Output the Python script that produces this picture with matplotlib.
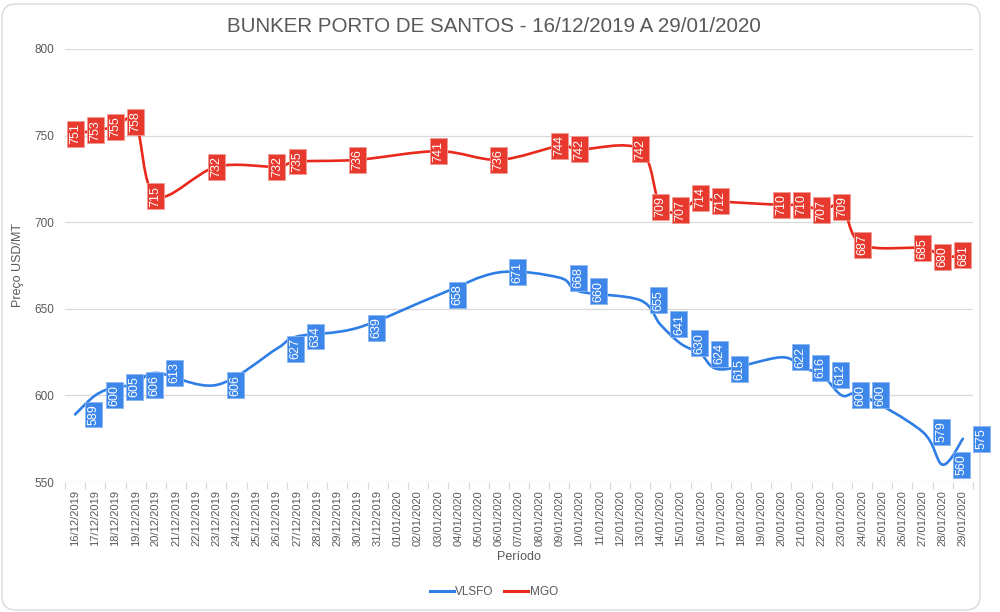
import numpy as np
import pandas as pd
import matplotlib
matplotlib.use("Agg")
import matplotlib.pyplot as plt
from matplotlib.path import Path
from matplotlib.patches import PathPatch, FancyBboxPatch
from matplotlib.lines import Line2D
from matplotlib.transforms import IdentityTransform

plt.rcParams['font.family'] = ['Liberation Sans', 'DejaVu Sans']

# axis categories: every day of the period
day_labels = [d.strftime('%d/%m/%Y') for d in pd.date_range('2019-12-16', '2020-01-29')]

# dates with a quote
quote_dates = ['16/12/2019', '17/12/2019', '18/12/2019', '19/12/2019', '20/12/2019',
               '23/12/2019', '26/12/2019', '27/12/2019', '30/12/2019', '03/01/2020',
               '06/01/2020', '09/01/2020', '10/01/2020', '13/01/2020', '14/01/2020',
               '15/01/2020', '16/01/2020', '17/01/2020', '20/01/2020', '21/01/2020',
               '22/01/2020', '23/01/2020', '24/01/2020', '27/01/2020', '28/01/2020',
               '29/01/2020']
vlsfo = [589, 600, 605, 606, 613, 606, 627, 634, 639, 658, 671, 668, 660,
         655, 641, 630, 624, 615, 622, 616, 612, 600, 600, 579, 560, 575]
mgo = [751, 753, 755, 758, 715, 732, 732, 735, 736, 741, 736, 744, 742,
       742, 709, 707, 714, 712, 710, 710, 707, 709, 687, 685, 680, 681]

BLUE_LINE = '#2f7ee6'
BLUE_BOX = '#3d86ea'
RED_LINE = '#e8291c'
RED_BOX = '#e8392e'
GRAY = '#595959'
GRID = '#d9d9d9'


def smooth_path(xs, ys):
    """Bezier path through the points, like Excel's smoothed line."""
    pts = np.column_stack([xs, ys]).astype(float)
    n = len(pts)
    verts = [pts[0]]
    codes = [Path.MOVETO]
    for i in range(n - 1):
        p0 = pts[i - 1] if i > 0 else pts[i]
        p1 = pts[i]
        p2 = pts[i + 1]
        p3 = pts[i + 2] if i + 2 < n else pts[i + 1]
        verts += [p1 + (p2 - p0) / 6.0, p2 - (p3 - p1) / 6.0, p2]
        codes += [Path.CURVE4] * 3
    return Path(verts, codes)


fig = plt.figure(figsize=(10, 6.12), dpi=100)
fig.add_artist(FancyBboxPatch((2, 2), 978, 606, boxstyle='round,pad=0,rounding_size=14',
                              transform=IdentityTransform(), facecolor='white',
                              edgecolor=GRID, linewidth=1.0, zorder=-10))

ax = fig.add_axes([0.065, 0.2124, 0.908, 0.7076])
ax.set_facecolor('none')

x_idx = [day_labels.index(d) for d in quote_dates]

ax.add_patch(PathPatch(smooth_path(x_idx, vlsfo), facecolor='none', edgecolor=BLUE_LINE,
                       linewidth=1.9, capstyle='round', zorder=3))
ax.add_patch(PathPatch(smooth_path(x_idx, mgo), facecolor='none', edgecolor=RED_LINE,
                       linewidth=1.9, capstyle='round', zorder=3))

for x, v in zip(x_idx, vlsfo):
    ax.annotate(str(v), (x, v), xytext=(13.5, 0), textcoords='offset points',
                rotation=90, ha='center', va='center', color='white', fontsize=9,
                bbox=dict(boxstyle='square,pad=0.2', facecolor=BLUE_BOX,
                          edgecolor='#8ab6f2', linewidth=0.6), zorder=4)

for x, v in zip(x_idx, mgo):
    ax.text(x, v, str(v), rotation=90, ha='center', va='center', color='white',
            fontsize=9,
            bbox=dict(boxstyle='square,pad=0.2', facecolor=RED_BOX,
                      edgecolor='#f09a93', linewidth=0.6), zorder=4)

ax.set_xlim(-0.5, len(day_labels) - 0.5)
ax.set_ylim(550, 800)
ax.set_yticks(np.arange(550, 801, 50))
ax.set_xticks(range(len(day_labels)))
ax.set_xticklabels(day_labels, rotation=90, fontsize=8, color=GRAY)
ax.set_xticks(np.arange(-0.5, len(day_labels), 1), minor=True)
ax.tick_params(axis='x', which='major', length=0, pad=6)
ax.tick_params(axis='x', which='minor', length=5, color=GRID, width=0.8)
ax.tick_params(axis='y', length=0, pad=8, labelsize=8.5, labelcolor=GRAY)
ax.grid(axis='y', color=GRID, linewidth=0.9)
ax.set_axisbelow(True)
for s in ax.spines.values():
    s.set_visible(False)

ax.set_ylabel('Preço USD/MT', fontsize=9, color=GRAY, labelpad=7)
ax.set_xlabel('Período', fontsize=9, color=GRAY, labelpad=3)

fig.text(0.494, 0.957, 'BUNKER PORTO DE SANTOS - 16/12/2019 A 29/01/2020',
         ha='center', va='center', fontsize=14.8, color=GRAY)

handles = [Line2D([], [], color=BLUE_LINE, linewidth=2.2),
           Line2D([], [], color=RED_LINE, linewidth=2.2)]
fig.legend(handles, ['VLSFO', 'MGO'], loc='center', bbox_to_anchor=(0.494, 0.032),
           ncol=2, frameon=False, fontsize=8.5, handlelength=2.0, handletextpad=0.15,
           columnspacing=0.9, labelcolor=GRAY)

fig.savefig('out.png', dpi=100, facecolor='white')
